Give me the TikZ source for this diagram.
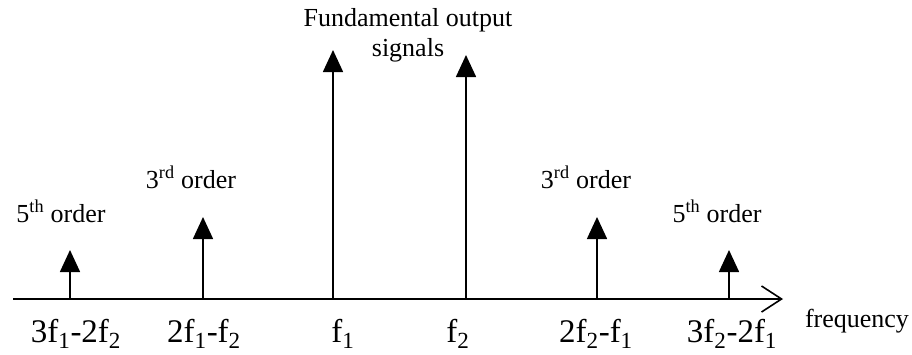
\documentclass[tikz,border=0pt]{standalone}
\usepackage{fontspec}
\setmainfont{Liberation Serif}
\usetikzlibrary{arrows.meta}

\begin{document}
\begin{tikzpicture}[x=1pt,y=-1pt,
  spike/.style={line width=1.6pt,-{Triangle[width=20pt,length=22pt]}},
  axisline/.style={line width=1.6pt,-{Straight Barb[length=20pt,width=26pt,line width=1.6pt]}},
  lbl/.style={font=\fontsize{26}{30}\selectfont,anchor=base,inner sep=0pt,align=center},
  flbl/.style={font=\fontsize{33}{36}\selectfont,anchor=base,inner sep=0pt}]
\useasboundingbox (0,0) rectangle (912,354);
% frequency axis
\coordinate (origin) at (13,299);
\coordinate (axisend) at (783,299);
\draw[axisline] (origin) -- (axisend);
\node[font=\fontsize{26}{28}\selectfont,anchor=base,inner sep=0pt] (freq) at (857,327) {frequency};
% spectral lines
\coordinate (b1) at (70,299);  \coordinate (t1) at (70,250);
\coordinate (b2) at (203,299); \coordinate (t2) at (203,217);
\coordinate (b3) at (333,299); \coordinate (t3) at (333,50);
\coordinate (b4) at (466,299); \coordinate (t4) at (466,55);
\coordinate (b5) at (597,299); \coordinate (t5) at (597,217);
\coordinate (b6) at (729,299); \coordinate (t6) at (729,250);
\draw[spike] (b1) -- (t1); \draw[spike] (b2) -- (t2); \draw[spike] (b3) -- (t3);
\draw[spike] (b4) -- (t4); \draw[spike] (b5) -- (t5); \draw[spike] (b6) -- (t6);
% order labels
\node[lbl] (fifthL) at (61,222) {5\textsuperscript{th} order};
\node[lbl] (thirdL) at (191,188) {3\textsuperscript{rd} order};
\node[lbl] (fund) at (408,56) {Fundamental output\\signals};
\node[lbl] (thirdR) at (586,188) {3\textsuperscript{rd} order};
\node[lbl] (fifthR) at (717,222) {5\textsuperscript{th} order};
% frequency labels
\node[flbl] (f1) at (76,342) {3f\textsubscript{1}-2f\textsubscript{2}};
\node[flbl] (f2) at (204,342) {2f\textsubscript{1}-f\textsubscript{2}};
\node[flbl] (f3) at (343,342) {f\textsubscript{1}};
\node[flbl] (f4) at (458,342) {f\textsubscript{2}};
\node[flbl] (f5) at (596,342) {2f\textsubscript{2}-f\textsubscript{1}};
\node[flbl] (f6) at (732,342) {3f\textsubscript{2}-2f\textsubscript{1}};
\end{tikzpicture}
\end{document}
